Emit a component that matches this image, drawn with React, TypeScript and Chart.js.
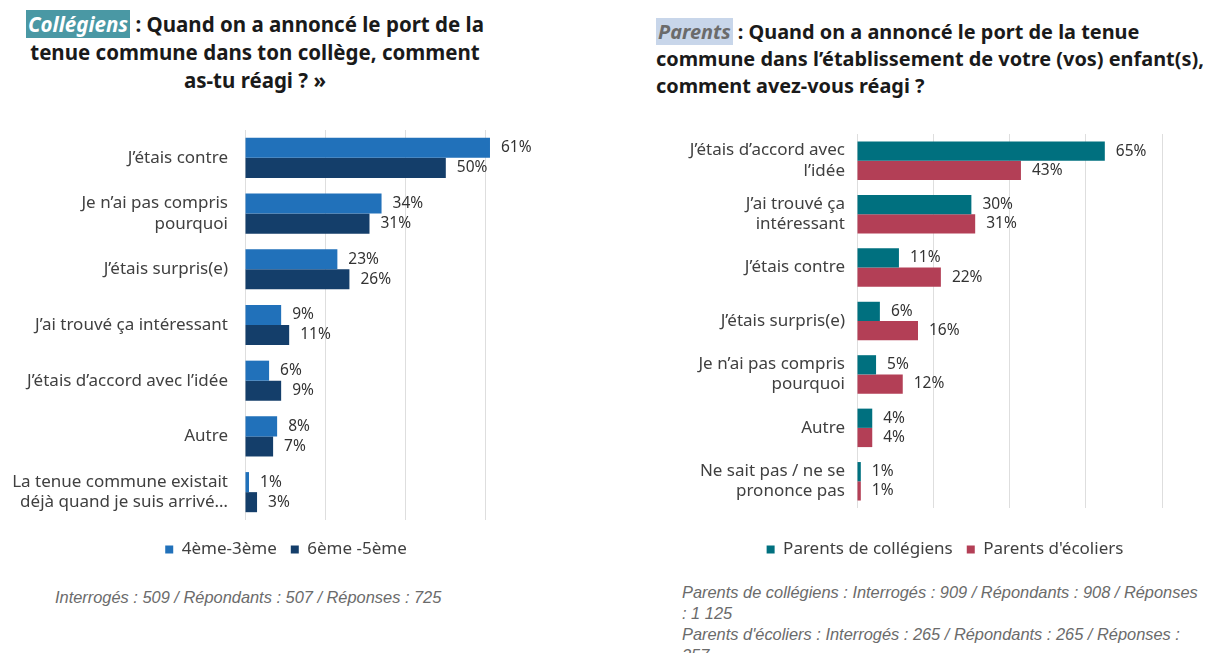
import React, { useEffect, useRef } from "react";
import { Chart, registerables } from "chart.js";

Chart.register(...registerables);

const leftCategories = [
  "J’étais contre",
  ["Je n’ai pas compris", "pourquoi"],
  "J’étais surpris(e)",
  "J’ai trouvé ça intéressant",
  "J’étais d’accord avec l’idée",
  "Autre",
  ["La tenue commune existait", "déjà quand je suis arrivé…"],
];
const leftSeriesNames = ["4ème-3ème", "6ème -5ème"];
const leftSeriesA = [61, 34, 23, 9, 6, 8, 1];
const leftSeriesB = [50, 31, 26, 11, 9, 7, 3];
const leftTicks = [0, 20, 40, 60];

const rightCategories = [
  ["J’étais d’accord avec", "l’idée"],
  ["J’ai trouvé ça", "intéressant"],
  "J’étais contre",
  "J’étais surpris(e)",
  ["Je n’ai pas compris", "pourquoi"],
  "Autre",
  ["Ne sait pas / ne se", "prononce pas"],
];
const rightSeriesNames = ["Parents de collégiens", "Parents d'écoliers"];
const rightSeriesA = [65, 30, 11, 6, 5, 4, 1];
const rightSeriesB = [43, 31, 22, 16, 12, 4, 1];
const rightTicks = [0, 20, 40, 60, 80];

const FONT = "'Noto Sans', sans-serif";

const valueLabels = {
  id: "valueLabels",
  afterDatasetsDraw(chart: any) {
    const ctx = chart.ctx;
    ctx.save();
    ctx.font = `15.5px ${FONT}`;
    ctx.fillStyle = "#333333";
    ctx.textBaseline = "middle";
    ctx.textAlign = "left";
    chart.data.datasets.forEach((ds: any, i: number) => {
      const meta = chart.getDatasetMeta(i);
      meta.data.forEach((el: any, j: number) => {
        ctx.fillText(`${ds.data[j]}%`, el.x + 11, el.y);
      });
    });
    ctx.restore();
  },
};

const shiftLegend = {
  id: "shiftLegend",
  afterLayout(chart: any, _args: any, opts: any) {
    const l = chart.legend;
    if (l && opts && opts.dx) {
      l.left += opts.dx;
      l.right += opts.dx;
    }
  },
};

type Cfg = {
  labels: any[];
  a: number[];
  b: number[];
  names: string[];
  colors: string[];
  max: number;
  ticks: number[];
  yWidth: number;
  xHeight: number;
  padTop: number;
  padRight: number;
  labelPad: number;
  legendDx: number;
};

function BarChart({ cfg, width, height }: { cfg: Cfg; width: number; height: number }) {
  const ref = useRef<HTMLCanvasElement>(null);
  useEffect(() => {
    if (!ref.current) return;
    const chart = new Chart(ref.current, {
      type: "bar",
      data: {
        labels: cfg.labels,
        datasets: [
          {
            label: cfg.names[0],
            data: cfg.a,
            backgroundColor: cfg.colors[0],
            categoryPercentage: 0.72,
            barPercentage: 1,
          },
          {
            label: cfg.names[1],
            data: cfg.b,
            backgroundColor: cfg.colors[1],
            categoryPercentage: 0.72,
            barPercentage: 1,
          },
        ],
      },
      options: {
        indexAxis: "y",
        responsive: false,
        animation: false,
        layout: { padding: { top: cfg.padTop, right: cfg.padRight, left: 0, bottom: 0 } },
        scales: {
          x: {
            min: 0,
            max: cfg.max,
            afterBuildTicks: (s: any) => {
              s.ticks = cfg.ticks.map((v) => ({ value: v }));
            },
            afterFit: (s: any) => {
              s.height = cfg.xHeight;
              s.paddingLeft = 0;
              s.paddingRight = 0;
            },
            ticks: { display: false },
            grid: { color: "#dedede", drawTicks: false, lineWidth: 1 },
            border: { display: false },
          },
          y: {
            afterFit: (s: any) => {
              s.width = cfg.yWidth;
              s.paddingTop = 0;
              s.paddingBottom = 0;
            },
            grid: { display: false, drawTicks: false },
            border: { display: false },
            ticks: {
              color: "#404040",
              font: { family: FONT, size: 17 },
              padding: cfg.labelPad,
              autoSkip: false,
            },
          },
        },
        plugins: {
          legend: {
            position: "bottom",
            labels: {
              boxWidth: 8,
              boxHeight: 8,
              padding: 14,
              color: "#404040",
              font: { family: FONT, size: 17 },
            },
          },
          tooltip: { enabled: false },
          shiftLegend: { dx: cfg.legendDx },
        },
      } as any,
      plugins: [valueLabels, shiftLegend],
    });
    return () => chart.destroy();
  }, []);
  return <canvas ref={ref} width={width} height={height} style={{ width, height, display: "block" }} />;
}

const leftCfg: Cfg = {
  labels: leftCategories,
  a: leftSeriesA,
  b: leftSeriesB,
  names: leftSeriesNames,
  colors: ["#2171ba", "#143e6a"],
  max: 62,
  ticks: leftTicks,
  yWidth: 245,
  xHeight: 7,
  padTop: 10,
  padRight: 78,
  labelPad: 17,
  legendDx: 39,
};

const rightCfg: Cfg = {
  labels: rightCategories,
  a: rightSeriesA,
  b: rightSeriesB,
  names: rightSeriesNames,
  colors: ["#00707f", "#b33f56"],
  max: 80,
  ticks: rightTicks,
  yWidth: 187,
  xHeight: 19,
  padTop: 14,
  padRight: 49,
  labelPad: 12,
  legendDx: 29,
};

const titleStyle: React.CSSProperties = {
  position: "absolute",
  fontFamily: FONT,
  fontWeight: 700,
  fontSize: 20,
  color: "#1a1a1a",
  whiteSpace: "nowrap",
};

const noteStyle: React.CSSProperties = {
  position: "absolute",
  fontFamily: "'Liberation Sans', Arial, sans-serif",
  fontStyle: "italic",
  fontSize: 16.4,
  color: "#6b6b6b",
  whiteSpace: "nowrap",
};

export default function App() {
  return (
    <div style={{ position: "relative", width: 1211, height: 661, margin: -8, background: "#fff", overflow: "hidden" }}>
      <div style={{ ...titleStyle, fontSize: 20.5, left: 0, top: 10, width: 510, textAlign: "center", lineHeight: "28px" }}>
        <span style={{ background: "#4a98a4", color: "#fff", fontStyle: "italic", padding: "0 2px" }}>Collégiens</span> : Quand on a annoncé le port de la
        <br />
        tenue commune dans ton collège, comment
        <br />
        as-tu réagi ? »
      </div>
      <div style={{ ...titleStyle, fontSize: 19.9, left: 656, top: 18, lineHeight: "27px" }}>
        <span style={{ background: "#c8d6ea", color: "#6b6b6b", fontStyle: "italic", padding: "0 2px" }}>Parents</span> : Quand on a annoncé le port de la tenue
        <br />
        commune dans l’établissement de votre (vos) enfant(s),
        <br />
        comment avez-vous réagi ?
      </div>
      <div style={{ position: "absolute", left: 0, top: 120 }}>
        <BarChart cfg={leftCfg} width={572} height={448} />
      </div>
      <div style={{ position: "absolute", left: 670, top: 120 }}>
        <BarChart cfg={rightCfg} width={541} height={448} />
      </div>
      <div style={{ ...noteStyle, left: 55, top: 587, lineHeight: "20px" }}>
        Interrogés : 509 / Répondants : 507 / Réponses : 725
      </div>
      <div style={{ ...noteStyle, left: 682, top: 582, lineHeight: "21px" }}>
        Parents de collégiens : Interrogés : 909 / Répondants : 908 / Réponses
        <br />: 1 125
        <br />
        Parents d'écoliers : Interrogés : 265 / Répondants : 265 / Réponses :
        <br />
        357
      </div>
    </div>
  );
}
